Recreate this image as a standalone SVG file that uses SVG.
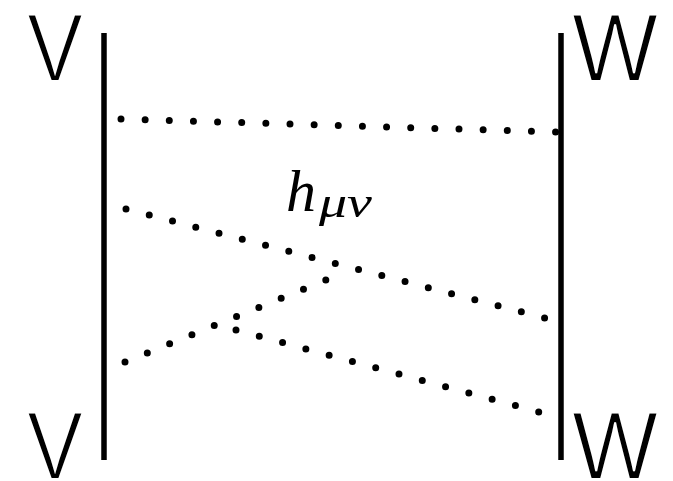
<svg xmlns="http://www.w3.org/2000/svg" width="673" height="481" viewBox="0 0 673 481">
<style>
.lbl{font-family:"Liberation Sans",Arial,sans-serif;font-size:96px;fill:#000;stroke:#fff;stroke-width:2}
.wl{stroke:#000;stroke-width:5.5;fill:none}
.dot{stroke:#000;stroke-width:7;stroke-linecap:round;stroke-dasharray:0 0.999;fill:none}
.math{font-family:"Liberation Serif","Times New Roman",serif;font-style:italic;fill:#000}
</style>
<rect width="673" height="481" fill="#fff"/>
<g id="worldline-V">
<line class="wl" x1="104" y1="33" x2="104" y2="460"/>
<text class="lbl" x="27" y="81" textLength="56" lengthAdjust="spacingAndGlyphs">V</text>
<text class="lbl" x="27" y="479" textLength="56" lengthAdjust="spacingAndGlyphs">V</text>
</g>
<g id="worldline-W">
<line class="wl" x1="561" y1="33" x2="561" y2="460"/>
<text class="lbl" x="572" y="81" textLength="86" lengthAdjust="spacingAndGlyphs">W</text>
<text class="lbl" x="572" y="479" textLength="86" lengthAdjust="spacingAndGlyphs">W</text>
</g>
<g id="connectors">
<path class="dot" pathLength="18" d="M121,119 L556,132"/>
<path class="dot" pathLength="18" d="M126,209 L545,318"/>
<path class="dot" pathLength="9" d="M125,362 L326,280"/>
<path class="dot" pathLength="13" d="M236,330 L539,412"/>
</g>
<g id="label-h">
<text class="math" x="286" y="211" font-size="60">h</text>
<text class="math" x="319" y="217" font-size="44" textLength="53" lengthAdjust="spacingAndGlyphs">μν</text>
</g>
</svg>
